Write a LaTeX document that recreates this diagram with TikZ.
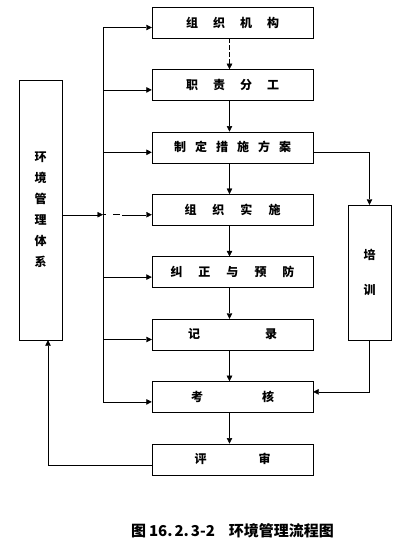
\documentclass[tikz,border=0pt]{standalone}
\usepackage{fontspec}
\newfontfamily\cjk{Noto Sans CJK SC}
\usetikzlibrary{arrows.meta,positioning,calc}
\tikzset{
    flowbox/.style={draw, rectangle, minimum width=161pt, minimum height=31pt, inner sep=0pt, font=\cjk\bfseries\fontsize{12}{12}\selectfont},
    sidebox/.style={draw, rectangle, minimum width=43pt, inner sep=0pt, align=center},
    flowarrow/.style={-{Triangle[length=5.5pt,width=5.5pt]}},
}

\begin{document}
\begin{tikzpicture}[x=1pt, y=-1pt, node distance=31pt]
    \useasboundingbox (0,0) rectangle (406,555);
    % main chain
    \node[flowbox] (org) at (232.5,22.5) {组\hspace{15pt}织\hspace{15pt}机\hspace{15pt}构};
    \node[flowbox, below=of org] (duty) {职\hspace{15pt}责\hspace{15pt}分\hspace{15pt}工};
    \node[flowbox, below=of duty] (plan) {制\hspace{9pt}定\hspace{9pt}措\hspace{9pt}施\hspace{9pt}方\hspace{9pt}案};
    \node[flowbox, below=of plan] (impl) {组\hspace{16pt}织\hspace{16pt}实\hspace{16pt}施};
    \node[flowbox, below=of impl] (corr) {纠\hspace{16pt}正\hspace{16pt}与\hspace{16pt}预\hspace{16pt}防};
    \node[flowbox, below=of corr] (rec) {记\hspace{65pt}录};
    \node[flowbox, below=of rec] (check) {考\hspace{59pt}核};
    \node[flowbox, below=of check] (review) {评\hspace{52pt}审};
    % side boxes
    \node[sidebox, minimum height=260pt, font=\cjk\bfseries\fontsize{12}{21}\selectfont] (sys) at (40.5,210) {环\\境\\管\\理\\体\\系};
    \node[sidebox, minimum height=135pt, font=\cjk\bfseries\fontsize{12}{35}\selectfont] (train) at (369.5,272.5) {培\\训};

    % arrows down the chain
    \draw[flowarrow, dash pattern=on 5pt off 2pt] ([xshift=-3pt]org.south) -- ([xshift=-3pt]duty.north);
    \foreach \a/\b in {duty/plan, plan/impl, impl/corr, corr/rec, rec/check, check/review}
        \draw[flowarrow] ([xshift=-3pt]\a.south) -- ([xshift=-3pt]\b.north);

    % bus from the system box
    \coordinate (bus) at (103,0);
    \draw (bus |- {$(org.west)+(0,5)$}) -- (bus |- {$(check.west)+(0,5)$});
    \foreach \b/\w in {org/thin, duty/thick, plan/thick, corr/thick, rec/thin, check/thick}
        \draw[flowarrow, \w] (bus |- {$(\b.west)+(0,5)$}) -- ($(\b.west)+(0,5)$);
    \coordinate (implin) at ($(impl.west)+(0,5)$);
    \draw[flowarrow] (sys.east |- implin) -- (bus |- implin);
    \draw[thick, dash pattern=on 3pt off 7pt on 7pt off 50pt] (bus |- implin) -- ++(19,0);
    \draw[flowarrow] ($(bus |- implin)+(19,0)$) -- (implin);

    % training loop
    \draw[flowarrow] ($(plan.east)+(0,5)$) -| (train.north);
    \draw[flowarrow] (train.south) |- ($(check.east)+(0,-5)$);

    % review back to the system
    \draw[flowarrow] ($(review.west)+(0,6)$) -| ($(sys.south)+(7.5,0)$);

    % caption
    \node[font=\cjk\bfseries\fontsize{15}{15}\selectfont] (cap) at (232.5,531) {图\hspace{3pt}16.\hspace{2pt}2.\hspace{2pt}3-2\hspace{14pt}环境管理流程图};
\end{tikzpicture}
\end{document}
